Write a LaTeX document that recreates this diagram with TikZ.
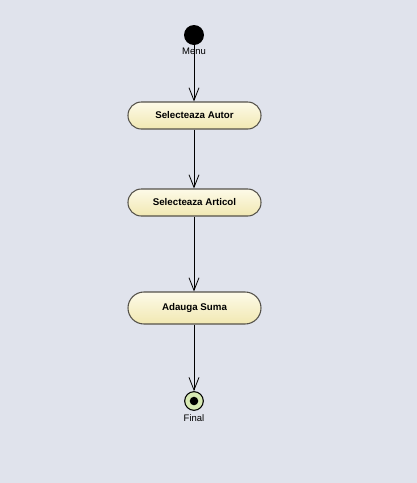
\documentclass[tikz,border=0pt]{standalone}
\usepackage{fontspec}
\setmainfont{Liberation Sans}
\usetikzlibrary{arrows.meta}

\begin{document}
\begin{tikzpicture}[x=0.75pt, y=0.75pt]
  \definecolor{bgcol}{HTML}{E0E3EC}
  \definecolor{acttop}{HTML}{FDFAE8}
  \definecolor{actbot}{HTML}{F1E8B2}
  \definecolor{actline}{HTML}{55524A}
  \definecolor{finalfill}{HTML}{D8EAB4}
  \tikzstyle{action}=[draw=actline, line width=0.8pt, top color=acttop, bottom color=actbot,
    minimum width=99.75pt, minimum height=20.25pt, rounded corners=10pt, inner sep=0pt,
    font=\fontsize{7.3}{9}\selectfont\bfseries]
  \tikzstyle{flow}=[draw, line width=0.6pt, -{Straight Barb[length=9.5pt, width=7.5pt, line width=0.6pt]}]
  \tikzstyle{caption}=[font=\fontsize{7.1}{9}\selectfont, inner sep=0pt]

  \fill[bgcol] (0,0) rectangle (417,-483);
  \useasboundingbox (0,0) rectangle (417,-483);

  % start
  \node[circle, fill=black, minimum size=15pt, inner sep=0pt] (start) at (194,-35) {};
  \node[caption] (menu) at (194,-51) {Menu};

  % actions
  \node[action] (autor) at (194.5,-115.5) {Selecteaza Autor};
  \node[action] (articol) at (194.5,-202.5) {Selecteaza Articol};
  \node[action, minimum height=24pt, rounded corners=12pt] (suma) at (194.5,-308) {Adauga Suma};

  % final
  \node[circle, draw=black, line width=0.8pt, fill=finalfill, minimum size=14pt, inner sep=0pt] (final) at (194,-401) {};
  \fill[black] (final.center) circle (3.2pt);
  \node[caption] (finallbl) at (194,-418) {Final};

  \draw[flow] (start.south) -- (start.south |- autor.north);
  \draw[flow] (start.south |- autor.south) -- (start.south |- articol.north);
  \draw[flow] (start.south |- articol.south) -- (start.south |- suma.north);
  \draw[flow] (start.south |- suma.south) -- (final.north);
\end{tikzpicture}
\end{document}
